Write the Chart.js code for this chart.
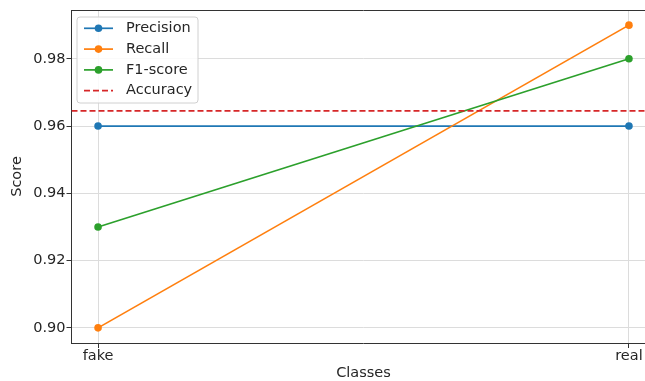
<!DOCTYPE html>
<html>
<head>
<meta charset="utf-8">
<script src="https://cdn.jsdelivr.net/npm/chart.js@4/dist/chart.umd.min.js"></script>
<style>
  html, body { margin: 0; padding: 0; background: #fff; overflow: hidden; }
  #wrap { width: 660px; height: 381px; }
</style>
</head>
<body>
<div id="wrap"><canvas id="c" width="660" height="381"></canvas></div>
<script>
// Per-class scores
const classes = ['fake', 'real'];
const precision = [0.96, 0.96];
const recall = [0.90, 0.99];
const f1Score = [0.93, 0.98];
const accuracy = 0.9645;
const yTickValues = [0.90, 0.92, 0.94, 0.96, 0.98];

// Axis bounds (5% margin around the data)
const xMin = -0.05, xMax = 1.05;
const yMin = 0.8955, yMax = 0.9945;

const FONT = 'DejaVu Sans';
const FSIZE = 14.5;
const TEXT = '#262626';

const toPoints = arr => arr.map((v, i) => ({ x: i, y: v }));

// Legend box drawn inside the plot area, plus the top spine
const insideLegend = {
  id: 'insideLegend',
  afterDatasetsDraw(chart) {
    const { ctx, chartArea } = chart;
    ctx.save();
    // top spine
    ctx.strokeStyle = '#333';
    ctx.lineWidth = 1;
    ctx.beginPath();
    ctx.moveTo(chartArea.left, chartArea.top + 0.5);
    ctx.lineTo(chartArea.right, chartArea.top + 0.5);
    ctx.stroke();

    const bx = chartArea.left + 5.5, by = chartArea.top + 7, bw = 121, bh = 86, r = 3;
    ctx.beginPath();
    ctx.moveTo(bx + r, by);
    ctx.lineTo(bx + bw - r, by);
    ctx.quadraticCurveTo(bx + bw, by, bx + bw, by + r);
    ctx.lineTo(bx + bw, by + bh - r);
    ctx.quadraticCurveTo(bx + bw, by + bh, bx + bw - r, by + bh);
    ctx.lineTo(bx + r, by + bh);
    ctx.quadraticCurveTo(bx, by + bh, bx, by + bh - r);
    ctx.lineTo(bx, by + r);
    ctx.quadraticCurveTo(bx, by, bx + r, by);
    ctx.closePath();
    ctx.fillStyle = 'rgba(255,255,255,0.85)';
    ctx.fill();
    ctx.strokeStyle = '#d0d0d0';
    ctx.stroke();

    ctx.font = FSIZE + 'px "' + FONT + '"';
    ctx.textBaseline = 'middle';
    ctx.textAlign = 'left';
    chart.data.datasets.forEach((ds, i) => {
      const cy = by + 11.3 + i * 20.8;
      const x0 = bx + 7, x1 = bx + 36;
      ctx.strokeStyle = ds.borderColor;
      ctx.lineWidth = ds.borderWidth;
      ctx.setLineDash(ds.borderDash || []);
      ctx.beginPath();
      ctx.moveTo(x0, cy);
      ctx.lineTo(x1, cy);
      ctx.stroke();
      ctx.setLineDash([]);
      if (ds.pointRadius > 0) {
        ctx.fillStyle = ds.borderColor;
        ctx.beginPath();
        ctx.arc((x0 + x1) / 2, cy, ds.pointRadius, 0, Math.PI * 2);
        ctx.fill();
      }
      ctx.fillStyle = TEXT;
      ctx.fillText(ds.label, bx + 49, cy);
    });
    ctx.restore();
  }
};

const lineStyle = (label, data, color, order) => ({
  label, data,
  borderColor: color,
  backgroundColor: color,
  pointBackgroundColor: color,
  pointBorderWidth: 0,
  pointRadius: 3.8,
  borderWidth: 1.7,
  tension: 0,
  order
});

new Chart(document.getElementById('c'), {
  type: 'line',
  data: {
    datasets: [
      lineStyle('Precision', toPoints(precision), '#1f77b4', 4),
      lineStyle('Recall', toPoints(recall), '#ff7f0e', 3),
      lineStyle('F1-score', toPoints(f1Score), '#2ca02c', 2),
      {
        label: 'Accuracy',
        data: [{ x: xMin, y: accuracy }, { x: xMax, y: accuracy }],
        borderColor: '#d62728',
        borderWidth: 1.7,
        borderDash: [6, 3],
        pointRadius: 0,
        order: 1
      }
    ]
  },
  options: {
    responsive: false,
    animation: false,
    events: [],
    layout: { padding: { left: 0, top: 10, right: 4.5, bottom: 0 } },
    plugins: { legend: { display: false }, tooltip: { enabled: false } },
    scales: {
      x: {
        type: 'linear',
        min: xMin,
        max: xMax,
        afterBuildTicks: s => { s.ticks = classes.map((c, i) => ({ value: i })); },
        afterFit: s => { s.height = 38; },
        ticks: {
          callback: v => classes[v] !== undefined ? classes[v] : '',
          font: { family: FONT, size: FSIZE, lineHeight: 1.1 },
          color: TEXT,
          padding: 0,
          maxRotation: 0,
          autoSkip: false
        },
        grid: { color: '#dcdcdc', lineWidth: 1, tickLength: 5, tickColor: '#333' },
        border: { color: '#333', width: 1 },
        title: {
          display: true,
          text: 'Classes',
          font: { family: FONT, size: FSIZE },
          color: TEXT,
          padding: { top: 0, bottom: -1 }
        }
      },
      y: {
        type: 'linear',
        min: yMin,
        max: yMax,
        afterBuildTicks: s => { s.ticks = yTickValues.map(v => ({ value: v })); },
        afterFit: s => { s.width = 71.5; },
        ticks: {
          callback: v => Number(v).toFixed(2),
          font: { family: FONT, size: FSIZE },
          color: TEXT,
          padding: 1
        },
        grid: { color: '#dcdcdc', lineWidth: 1, tickLength: 5, tickColor: '#333' },
        border: { color: '#333', width: 1 },
        title: {
          display: true,
          text: 'Score',
          font: { family: FONT, size: FSIZE },
          color: TEXT,
          padding: { top: 9, bottom: 0 }
        }
      }
    }
  },
  plugins: [insideLegend]
});
</script>
</body>
</html>
